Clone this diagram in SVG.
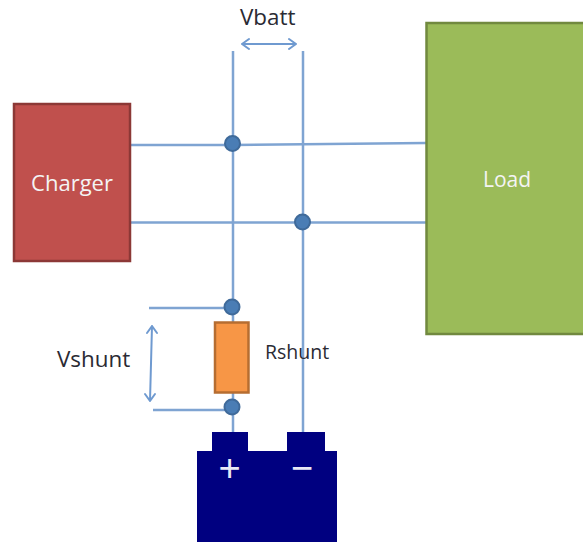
<svg xmlns="http://www.w3.org/2000/svg" width="583" height="542" viewBox="0 0 583 542">
<style>
.wire{fill:none;stroke:#7fa4d2;stroke-width:2.5}
.dim{fill:none;stroke:#6f9ad0;stroke-width:2;stroke-linecap:round;stroke-linejoin:round}
.dot{fill:#4a7db5;stroke:#3f6a9a;stroke-width:2}
text{font-family:"Open Sans","Liberation Sans",sans-serif}
.lbl{font-size:22.400px;fill:#2a2a33}
.inv{fill:#f4f4f4;text-anchor:middle}
.sign{font-size:38px;fill:#e8e8f4;text-anchor:middle;font-family:"Liberation Sans",sans-serif}
</style>
<rect width="583" height="542" fill="#fff"/>
<g id="connectors">
<path class="wire" d="M233 51V432"/>
<path class="wire" d="M303 51V432"/>
<path class="wire" d="M131 145L232 145L426 143"/>
<path class="wire" d="M131 222.5H426"/>
<path class="wire" d="M149 308H232"/>
<path class="wire" d="M153 410H232"/>
<path class="dim" d="M242 44H296M249 39L242 44L249 49M289 39L296 44L289 49"/>
<path class="dim" d="M152 326L150 401M147 333L152 326L157 333M145 394L150 401L155 394"/>
</g>
<g id="charger">
<rect x="14" y="104" width="116" height="157" fill="#c0504d" stroke="#8c3836" stroke-width="2.500"/>
<text class="inv" x="72" y="191" font-size="22">Charger</text>
</g>
<g id="load">
<rect x="426.500" y="23" width="158" height="311" fill="#9bbb59" stroke="#71893f" stroke-width="2.500"/>
<text class="inv" x="507" y="187" font-size="21">Load</text>
</g>
<g id="vbatt"><text class="lbl" x="240" y="25">Vbatt</text></g>
<g id="junction1"><circle class="dot" cx="232.500" cy="143.500" r="7.500"/></g>
<g id="junction2"><circle class="dot" cx="302.500" cy="222" r="7.500"/></g>
<g id="junction3"><circle class="dot" cx="232" cy="307" r="7.500"/></g>
<g id="junction4"><circle class="dot" cx="232" cy="407" r="7.500"/></g>
<g id="rshunt">
<rect x="215" y="322.500" width="33.500" height="70" fill="#f79646" stroke="#b66d31" stroke-width="2.500"/>
<text x="265" y="359" font-size="19.500" fill="#2a2a33">Rshunt</text>
</g>
<g id="vshunt"><text class="lbl" x="57" y="367">Vshunt</text></g>
<g id="battery">
<path fill="#000080" d="M197 451H212V432H248V451H287V432H325V451H337V542H197Z"/>
<text class="sign" x="229.500" y="481">+</text>
<text class="sign" x="302" y="481">−</text>
</g>
</svg>
